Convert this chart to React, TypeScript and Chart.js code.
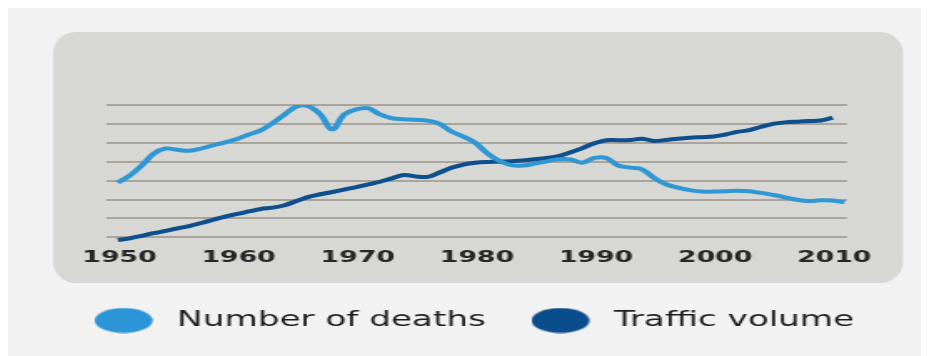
import React, { useEffect, useRef } from "react";
import { Chart, registerables } from "chart.js";

Chart.register(...registerables);

// ---------- data ----------
const deathYears = [
  1950, 1951, 1952, 1953, 1954, 1955, 1956, 1957, 1958, 1959,
  1960, 1961, 1962, 1963, 1964, 1965, 1966, 1967, 1968, 1969,
  1970, 1971, 1972, 1973, 1974, 1975, 1976, 1977, 1978, 1979,
  1980, 1981, 1982, 1983, 1984, 1985, 1986, 1987, 1988, 1989,
  1990, 1991, 1992, 1993, 1994, 1995, 1996, 1997, 1998, 1999,
  2000, 2001, 2002, 2003, 2004, 2005, 2006, 2007, 2008, 2009,
  2010, 2011,
];
const deathValues = [
  2.89, 3.27, 3.8, 4.42, 4.7, 4.63, 4.58, 4.7, 4.87, 5.02,
  5.2, 5.44, 5.66, 6.05, 6.5, 6.92, 6.94, 6.5, 5.7, 6.5,
  6.77, 6.83, 6.5, 6.3, 6.25, 6.22, 6.17, 6.0, 5.6, 5.33,
  5.0, 4.45, 4.05, 3.82, 3.8, 3.9, 4.02, 4.13, 4.12, 3.95,
  4.2, 4.2, 3.8, 3.69, 3.6, 3.15, 2.81, 2.63, 2.5, 2.42,
  2.42, 2.44, 2.47, 2.44, 2.35, 2.24, 2.12, 1.99, 1.92, 1.96,
  1.95, 1.85,
];

const trafficYears = [
  1950, 1951, 1952, 1953, 1954, 1955, 1956, 1957, 1958, 1959,
  1960, 1961, 1962, 1963, 1964, 1965, 1966, 1967, 1968, 1969,
  1970, 1971, 1972, 1973, 1974, 1975, 1976, 1977, 1978, 1979,
  1980, 1981, 1982, 1983, 1984, 1985, 1986, 1987, 1988, 1989,
  1990, 1991, 1992, 1993, 1994, 1995, 1996, 1997, 1998, 1999,
  2000, 2001, 2002, 2003, 2004, 2005, 2006, 2007, 2008, 2009,
  2010,
];
const trafficValues = [
  -0.14, -0.05, 0.08, 0.22, 0.34, 0.48, 0.6, 0.76, 0.93, 1.1,
  1.24, 1.37, 1.5, 1.57, 1.7, 1.92, 2.14, 2.28, 2.4, 2.53,
  2.66, 2.8, 2.94, 3.12, 3.3, 3.22, 3.2, 3.43, 3.68, 3.85,
  3.95, 3.99, 4.0, 4.03, 4.07, 4.13, 4.2, 4.3, 4.5, 4.72,
  4.98, 5.14, 5.14, 5.15, 5.22, 5.1, 5.15, 5.22, 5.27, 5.3,
  5.33, 5.44, 5.58, 5.67, 5.85, 6.0, 6.08, 6.12, 6.15, 6.18,
  6.33,
];

const xTickLabels = [1950, 1960, 1970, 1980, 1990, 2000, 2010];
const gridValues = [0, 1, 2, 3, 4, 5, 6, 7];
const seriesNames = ["Number of deaths", "Traffic volume"];
const seriesColors = ["#2f97d3", "#0d4e8d"];
const legendColors = ["#2c95d8", "#0a4c8c"];

// ---------- layout constants ----------
const OUTER_W = 921;
const OUTER_H = 348;
const INNER_W = 552;
const K = OUTER_W / INNER_W; // horizontal stretch of the whole drawing

function makeEllipse(color: string): HTMLCanvasElement {
  const c = document.createElement("canvas");
  c.width = 40;
  c.height = 26;
  const g = c.getContext("2d")!;
  g.fillStyle = color;
  g.beginPath();
  g.ellipse(17.4, 13, 17.4, 12.5, 0, 0, Math.PI * 2);
  g.fill();
  return c;
}

const panelPlugin = {
  id: "panel",
  beforeDraw(chart: any) {
    const ctx = chart.ctx;
    ctx.save();
    ctx.scale(1 / K, 1);
    ctx.fillStyle = "#d7d7d3";
    ctx.beginPath();
    ctx.roundRect(45, 24, 850, 251, 22);
    ctx.fill();
    ctx.restore();
  },
};

export default function App() {
  const ref = useRef<HTMLCanvasElement>(null);

  useEffect(() => {
    const markers = legendColors.map(makeEllipse);
    const chart = new Chart(ref.current!, {
      type: "line",
      data: {
        datasets: [
          {
            label: seriesNames[0],
            data: deathYears.map((x, i) => ({ x, y: deathValues[i] })),
            borderColor: seriesColors[0],
            backgroundColor: legendColors[0],
            borderWidth: 4,
            pointRadius: 0,
            tension: 0.35,
            fill: false,
          },
          {
            label: seriesNames[1],
            data: trafficYears.map((x, i) => ({ x, y: trafficValues[i] })),
            borderColor: seriesColors[1],
            backgroundColor: legendColors[1],
            borderWidth: 4,
            pointRadius: 0,
            tension: 0.35,
            fill: false,
          },
        ],
      },
      options: {
        animation: false,
        responsive: true,
        maintainAspectRatio: false,
        layout: { padding: { left: 7.8, right: 0, top: 97, bottom: 15.25 } },
        scales: {
          x: {
            type: "linear",
            min: 1949,
            max: 2011.2,
            grid: { display: false, drawTicks: false },
            border: { display: false },
            afterBuildTicks: (s: any) => {
              s.ticks = xTickLabels.map((v) => ({ value: v }));
            },
            ticks: {
              autoSkip: false,
              maxRotation: 0,
              padding: 5,
              labelOffset: 1,
              color: "#262626",
              font: { family: "DejaVu Sans", size: 16, weight: "bold" },
              callback: (v: any) => String(v),
            },
            title: {
              display: true,
              text: "",
              font: { size: 10, lineHeight: 1 },
              padding: 0,
            },
          },
          y: {
            min: -0.3,
            max: 7,
            afterBuildTicks: (s: any) => {
              s.ticks = gridValues.map((v) => ({ value: v }));
            },
            afterFit: (s: any) => {
              s.width = 50.9;
            },
            grid: { color: "#a9a59d", lineWidth: 2, drawTicks: false },
            border: { display: false },
            ticks: { display: false },
          },
          y2: {
            position: "right",
            min: 0,
            max: 1,
            afterFit: (s: any) => {
              s.width = 49.2;
            },
            grid: { display: false, drawTicks: false },
            border: { display: false },
            ticks: { display: false },
          },
        },
        plugins: {
          legend: {
            position: "bottom",
            labels: {
              usePointStyle: true,
              pointStyleWidth: 38.5,
              padding: 28,
              color: "#1e1e1e",
              font: { family: "DejaVu Sans", size: 20.5 },
              generateLabels: (c: any) => {
                const items = (Chart.defaults.plugins.legend.labels as any).generateLabels(c);
                return items.map((it: any, i: number) => ({ ...it, pointStyle: markers[i] }));
              },
            },
          },
          tooltip: { enabled: false },
        },
      } as any,
      plugins: [panelPlugin],
    });
    return () => chart.destroy();
  }, []);

  return (
    <div style={{ width: OUTER_W, height: OUTER_H, background: "#f2f2f2", overflow: "hidden" }}>
      <div
        style={{
          position: "relative",
          width: INNER_W,
          height: OUTER_H,
          transform: `scaleX(${K})`,
          transformOrigin: "0 0",
        }}
      >
        <canvas ref={ref} />
      </div>
    </div>
  );
}
